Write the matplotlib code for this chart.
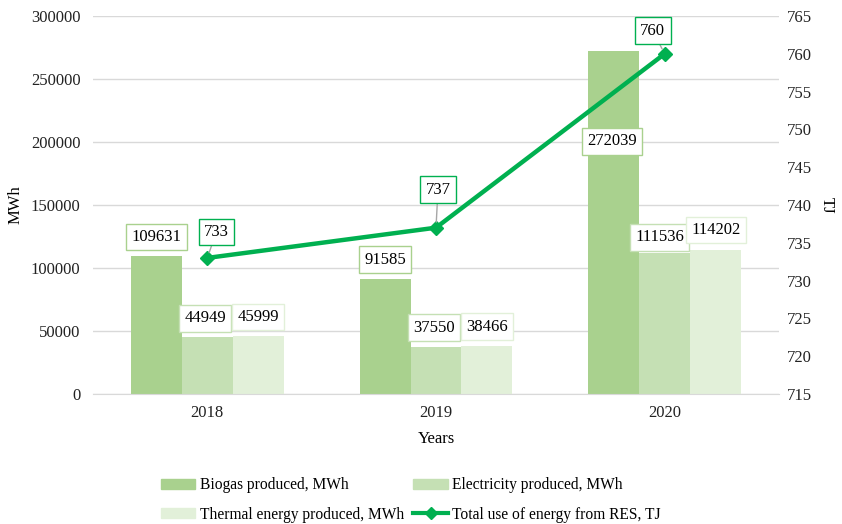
import matplotlib
matplotlib.use("Agg")
import matplotlib.pyplot as plt
import numpy as np
from matplotlib.lines import Line2D
from matplotlib.patches import Patch

plt.rcParams['font.family'] = ['Liberation Serif', 'DejaVu Serif']

years = ['2018', '2019', '2020']
biogas = [109631, 91585, 272039]
electricity = [44949, 37550, 111536]
thermal = [45999, 38466, 114202]
res_total = [733, 737, 760]

c_bio = '#A9D18E'
c_el = '#C5E0B4'
c_th = '#E2F0D9'
c_line = '#00B050'

fig = plt.figure(figsize=(8.42, 5.24), dpi=100)
ax = fig.add_axes([93/842, (524-394)/524, (779-93)/842, (394-16)/524])
ax2 = ax.twinx()

x = np.arange(len(years))
w = 0.223
ax.bar(x - w, biogas, w, color=c_bio, zorder=2)
ax.bar(x, electricity, w, color=c_el, zorder=2)
ax.bar(x + w, thermal, w, color=c_th, zorder=2)

ax.set_xlim(-0.5, 2.5)
ax.set_ylim(0, 300000)
ax.set_yticks(np.arange(0, 300001, 50000))
ax.grid(axis='y', color='#D9D9D9', linewidth=1, zorder=0)
ax.set_axisbelow(True)
for s in ['top', 'left', 'right']:
    ax.spines[s].set_visible(False)
ax.spines['bottom'].set_color('#D9D9D9')
ax.tick_params(axis='both', length=0, labelsize=12, colors='#222222')
ax.tick_params(axis='y', pad=9)
ax.tick_params(axis='x', pad=8)
ax.set_xticks(x)
ax.set_xticklabels(years)
ax.set_xlabel('Years', fontsize=12, labelpad=7)
ax.set_ylabel('MWh', fontsize=12, labelpad=5)

ax2.set_ylim(715, 765)
ax2.set_yticks(np.arange(715, 766, 5))
for s in ['top', 'left', 'right', 'bottom']:
    ax2.spines[s].set_visible(False)
ax2.tick_params(axis='y', length=0, labelsize=12, colors='#222222', pad=6)
ax2.set_ylabel('TJ', fontsize=12, rotation=270, labelpad=16)

ax2.plot(x, res_total, color=c_line, linewidth=3.2, marker='D', markersize=7, zorder=5)

def bar_label(axis, xv, yv, dx, dy, edge):
    axis.annotate(f'{yv}', (xv, yv), xytext=(dx, dy), textcoords='offset pixels',
                  ha='center', va='center', fontsize=12, zorder=6,
                  bbox=dict(boxstyle='square,pad=0.32', fc='white', ec=edge, lw=1))

bio_off = [(0, 19), (0, 19), (-2, -90)]
el_off = [(-2, 19), (-2, 19), (-5, 16)]
th_off = [(0, 19), (0, 19), (0, 20)]
for i in range(3):
    bar_label(ax, x[i] - w, biogas[i], *bio_off[i], c_bio)
    bar_label(ax, x[i], electricity[i], *el_off[i], c_el)
    bar_label(ax, x[i] + w, thermal[i], *th_off[i], c_th)

line_off = [(9, 26), (2, 38), (-12, 23)]
for i in range(3):
    ax2.annotate(f'{res_total[i]}', (x[i], res_total[i]), xytext=line_off[i],
                 textcoords='offset pixels', ha='center', va='center', fontsize=12, zorder=7,
                 bbox=dict(boxstyle='square,pad=0.32', fc='white', ec=c_line, lw=1),
                 arrowprops=dict(arrowstyle='-', color='#A6A6A6', lw=1, shrinkA=0, shrinkB=4))

handles = [Patch(color=c_bio), Patch(color=c_el), Patch(color=c_th),
           Line2D([0], [0], color=c_line, lw=3, marker='D', markersize=6)]
labels = ['Biogas produced, MWh', 'Electricity produced, MWh',
          'Thermal energy produced, MWh', 'Total use of energy from RES, TJ']
order = [0, 2, 1, 3]
fig.legend([handles[i] for i in order], [labels[i] for i in order], ncol=2,
           loc='center', bbox_to_anchor=(411/842, 1 - 500/524), frameon=False,
           fontsize=11.2, handlelength=2.2, handleheight=0.6, columnspacing=0.6,
           handletextpad=0.3, labelspacing=0.85)

fig.savefig('out.png', dpi=100)
